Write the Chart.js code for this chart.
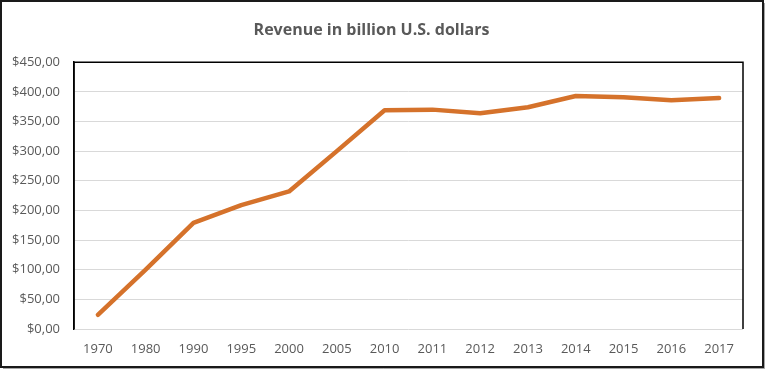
<!DOCTYPE html>
<html>
<head>
<meta charset="utf-8">
<script src="https://cdn.jsdelivr.net/npm/chart.js@4/dist/chart.umd.min.js"></script>
<style>
    body { margin: 0; background: #fff; }
    canvas { display: block; }
</style>
</head>
<body>
<canvas id="revenue" width="765" height="369"></canvas>
<script>
// data
const years = ['1970', '1980', '1990', '1995', '2000', '2005', '2010', '2011', '2012', '2013', '2014', '2015', '2016', '2017'];
const revenue = [24, 100, 179, 209, 232, 300, 369, 370, 364, 374, 393, 391, 386, 389.5];
const yMin = 0;
const yMax = 450;
const yStep = 50;

const textColor = '#595959';
const fontName = '"Open Sans", "Liberation Sans", sans-serif';

// outer frame + black box around the plot (top / right)
const frames = {
    id: 'frames',
    afterDraw(chart) {
        const c = chart.ctx;
        const a = chart.chartArea;
        c.save();
        c.strokeStyle = '#000';
        c.lineWidth = 1.5;
        c.beginPath();
        c.moveTo(a.left, a.bottom);
        c.lineTo(a.left, a.top);
        c.lineTo(a.right, a.top);
        c.lineTo(a.right, a.bottom);
        c.stroke();

        c.strokeStyle = '#1a1a1a';
        c.lineWidth = 2;
        c.strokeRect(1, 1, chart.width - 3, chart.height - 3);
        c.strokeStyle = 'rgba(0,0,0,0.35)';
        c.lineWidth = 1;
        c.beginPath();
        c.moveTo(chart.width - 0.5, 3);
        c.lineTo(chart.width - 0.5, chart.height - 0.5);
        c.lineTo(3, chart.height - 0.5);
        c.stroke();
        c.restore();
    }
};

new Chart(document.getElementById('revenue'), {
    type: 'line',
    data: {
        labels: years,
        datasets: [{
            label: 'Revenue',
            data: revenue,
            borderColor: '#d5722b',
            backgroundColor: '#d5722b',
            borderWidth: 4.5,
            borderCapStyle: 'round',
            borderJoinStyle: 'round',
            pointRadius: 0,
            tension: 0,
            fill: false
        }]
    },
    options: {
        responsive: false,
        animation: false,
        layout: { padding: { left: 0, right: 22, top: 0, bottom: 0 } },
        plugins: {
            legend: { display: false },
            tooltip: { enabled: false },
            title: {
                display: true,
                text: 'Revenue in billion U.S. dollars',
                color: textColor,
                font: { family: fontName, size: 16, weight: 'bold' },
                padding: { top: 21, bottom: 22 }
            }
        },
        scales: {
            x: {
                offset: true,
                grid: { display: false, drawTicks: false },
                border: { display: false },
                ticks: {
                    color: textColor,
                    font: { family: fontName, size: 13 },
                    padding: 12,
                    maxRotation: 0
                },
                afterFit(scale) { scale.height = 40; }
            },
            y: {
                min: yMin,
                max: yMax,
                grid: { color: '#d9d9d9', lineWidth: 1, drawTicks: false },
                border: { display: true, color: '#000', width: 1.5 },
                ticks: {
                    stepSize: yStep,
                    color: textColor,
                    font: { family: fontName, size: 13 },
                    padding: 14,
                    callback: function (v) {
                        return '$' + v.toFixed(2).replace('.', ',');
                    }
                },
                afterFit(scale) { scale.width = 74; }
            }
        }
    },
    plugins: [frames]
});
</script>
</body>
</html>
